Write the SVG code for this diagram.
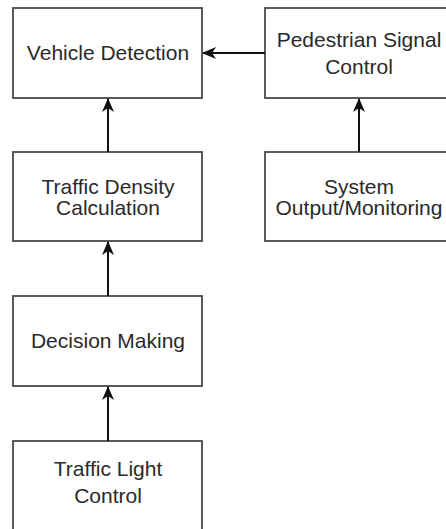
<svg xmlns="http://www.w3.org/2000/svg" width="446" height="529" viewBox="0 0 446 529">
<style>
.box{fill:#fff;stroke:#4a4a4a;stroke-width:1.8}
.t{font-family:"Liberation Sans",Arial,sans-serif;font-size:21px;fill:#2a2a2a;text-anchor:middle}
.edge{stroke:#111;stroke-width:2;fill:none}
</style>
<defs>
<marker id="ah" viewBox="0 0 14 12" refX="13" refY="6" markerWidth="14" markerHeight="12" markerUnits="userSpaceOnUse" orient="auto">
<path d="M0,0 L14,6 L0,12 L4,6 Z" fill="#111"/>
</marker>
</defs>
<rect width="446" height="529" fill="#fff"/>
<g id="vehicle-detection"><rect class="box" x="13" y="8" width="189" height="90"/><text class="t" x="108" y="60">Vehicle Detection</text></g>
<g id="pedestrian-signal-control"><rect class="box" x="265" y="8" width="189" height="90"/><text class="t" x="359" y="47">Pedestrian Signal</text><text class="t" x="359" y="74">Control</text></g>
<g id="traffic-density-calculation"><rect class="box" x="13" y="152" width="189" height="89"/><text class="t" x="108" y="194">Traffic Density</text><text class="t" x="108" y="215">Calculation</text></g>
<g id="system-output-monitoring"><rect class="box" x="265" y="152" width="189" height="89"/><text class="t" x="359" y="194">System</text><text class="t" x="359" y="215">Output/Monitoring</text></g>
<g id="decision-making"><rect class="box" x="13" y="296" width="189" height="90"/><text class="t" x="108" y="348">Decision Making</text></g>
<g id="traffic-light-control"><rect class="box" x="13" y="441" width="189" height="90"/><text class="t" x="108" y="476">Traffic Light</text><text class="t" x="108" y="503">Control</text></g>
<g id="connectors">
<line class="edge" x1="265" y1="53" x2="203" y2="53" marker-end="url(#ah)"/>
<line class="edge" x1="108" y1="152" x2="108" y2="99" marker-end="url(#ah)"/>
<line class="edge" x1="359" y1="152" x2="359" y2="99" marker-end="url(#ah)"/>
<line class="edge" x1="108" y1="296" x2="108" y2="242" marker-end="url(#ah)"/>
<line class="edge" x1="108" y1="441" x2="108" y2="387" marker-end="url(#ah)"/>
</g>
</svg>
